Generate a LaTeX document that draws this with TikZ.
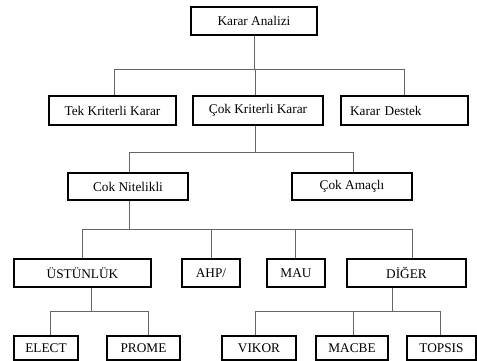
\documentclass[tikz,border=0pt]{standalone}
\usepackage{fontspec}
\setmainfont{Liberation Serif}
\begin{document}
\begin{tikzpicture}[x=1pt,y=-1pt,
  box/.style={draw=black,line width=2.2pt,fill=white,inner sep=0pt,font=\fontsize{13.3}{15}\selectfont},
  conn/.style={draw=black!60,line width=0.7pt}]
\useasboundingbox[fill=white] (0,0) rectangle (477,361);
% level 1
\node[box,minimum width=126pt,minimum height=28pt] (ka) at (254,21) {Karar Analizi};
% level 2
\node[box,minimum width=127pt,minimum height=29pt] (tk) at (112.5,110.5) {Tek Kriterli Karar};
\node[box,minimum width=130pt,minimum height=29pt] (ck) at (258,110.5) {Çok Kriterli Karar};
\node[box,minimum width=127pt,minimum height=29pt,text width=109pt,align=left] (kd) at (404.5,110.5) {Karar Destek};
% level 3
\node[box,minimum width=120pt,minimum height=27pt] (cn) at (128,186.5) {Cok Nitelikli};
\node[box,minimum width=120pt,minimum height=27pt] (ca) at (352,186.5) {Çok Amaçlı};
% level 4
\node[box,minimum width=137pt,minimum height=28pt] (us) at (82.5,273) {ÜSTÜNLÜK};
\node[box,minimum width=58pt,minimum height=28pt] (ahp) at (211,273) {AHP/};
\node[box,minimum width=58pt,minimum height=28pt] (mau) at (296,273) {MAU};
\node[box,minimum width=119pt,minimum height=28pt] (dg) at (406.5,273) {DİĞER};
% level 5
\node[box,minimum width=64pt,minimum height=24pt] (el) at (46,348) {ELECT};
\node[box,minimum width=73pt,minimum height=24pt] (pr) at (143.5,348) {PROME};
\node[box,minimum width=74pt,minimum height=24pt] (vi) at (259,348) {VIKOR};
\node[box,minimum width=72pt,minimum height=24pt] (ma) at (352,348) {MACBE};
\node[box,minimum width=69pt,minimum height=24pt] (to) at (441.5,348) {TOPSIS};
% junctions
\coordinate (j1) at (254,69);
\coordinate (j2) at (255,152);
\coordinate (j3) at (129,229);
\coordinate (j4) at (91,311);
\coordinate (j5) at (392,311);
% connectors
\draw[conn] (ka.south) -- (j1);
\draw[conn] (j1) -| ([xshift=2pt]tk.north);
\draw[conn] (j1) -| ([xshift=-3pt]ck.north);
\draw[conn] (j1) -| (kd.north);
\draw[conn] ([xshift=-3pt]ck.south) -- (j2);
\draw[conn] (j2) -| ([xshift=1pt]cn.north);
\draw[conn] (j2) -| ([xshift=1pt]ca.north);
\draw[conn] ([xshift=1pt]cn.south) -- (j3);
\draw[conn] (j3) -| (us.north);
\draw[conn] (j3) -| (ahp.north);
\draw[conn] (j3) -| ([xshift=-1pt]mau.north);
\draw[conn] (j3) -| ([xshift=5.5pt]dg.north);
\draw[conn] ([xshift=8.5pt]us.south) -- (j4);
\draw[conn] (j4) -| ([xshift=4pt]el.north);
\draw[conn] (j4) -| ([xshift=4.5pt]pr.north);
\draw[conn] ([xshift=-14.5pt]dg.south) -- (j5);
\draw[conn] (j5) -| ([xshift=-4pt]vi.north);
\draw[conn] (j5) -| ([xshift=1pt]ma.north);
\draw[conn] (j5) -| ([xshift=-1.5pt]to.north);
\end{tikzpicture}
\end{document}
